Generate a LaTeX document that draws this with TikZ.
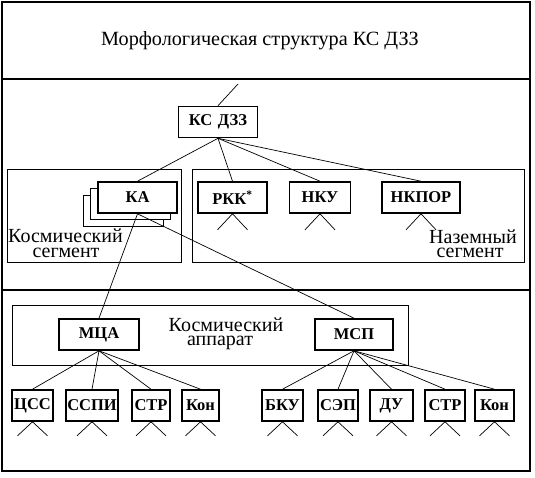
\documentclass[tikz,border=0pt]{standalone}
\usepackage{fontspec}
\setmainfont{Liberation Serif}
\newfontfamily\tms{Liberation Serif}
\begin{document}
\begin{tikzpicture}[x=1pt,y=-1pt,
  frame/.style={line width=1.6pt},
  thin/.style={line width=0.8pt},
  box/.style={draw,line width=1.6pt,fill=white,font=\tms\fontsize{16.5}{16.5}\selectfont\bfseries,inner sep=0pt,minimum height=31pt},
  blank/.style={draw,line width=0.8pt,fill=white,inner sep=0pt,minimum height=31pt,minimum width=80pt},
  seglabel/.style={anchor=base,font=\tms\fontsize{20}{20}\selectfont,inner sep=0pt},
  conn/.style={line width=0.7pt}]
\useasboundingbox (0,0) rectangle (535,477);
% outer frame and separators
\draw[frame] (2,2) rectangle (530,471);
\draw[frame] (2,79) -- (530,79);
\draw[frame] (2,290) -- (530,290);
\node[anchor=base,inner sep=0pt,font=\tms\fontsize{20.2}{20.2}\selectfont] (title) at (260,45) {Морфологическая структура КС ДЗЗ};
% segment boxes
\draw[thin] (7,169) rectangle (181,262);
\draw[thin] (192,169) rectangle (524,262);
\draw[thin] (12,305) rectangle (408,365);
\node[seglabel] (kseg1) at (65.5,242) {Космический};
\node[seglabel] (kseg2) at (66,257) {сегмент};
\node[seglabel] (nseg1) at (473,243) {Наземный};
\node[seglabel] (nseg2) at (470,257) {сегмент};
\node[seglabel] (kapp1) at (226,331) {Космический};
\node[seglabel] (kapp2) at (220,345.5) {аппарат};
% KA stack
\node[blank] (ka3) at (123,211) {};
\node[blank] (ka2) at (130,204) {};
\node[box,minimum width=79pt] (ka) at (137.5,197.5) {КА};
% nodes
\node[box,minimum width=79pt] (ksdzz) at (218,122) {КС\,\,ДЗЗ};
\node[box,minimum width=69pt] (rkk) at (232.5,197.5) {РКК\textsuperscript{*}};
\node[box,minimum width=61pt] (nku) at (320,197.5) {НКУ};
\node[box,minimum width=78pt] (nkpor) at (421,197.5) {НКПОР};
\node[box,minimum width=80pt] (mca) at (99,334.5) {МЦА};
\node[box,minimum width=78pt] (msp) at (354,334.5) {МСП};
\node[box,minimum width=41pt] (css) at (32.5,405.5) {ЦСС};
\node[box,minimum width=52pt] (sspi) at (92,405.5) {ССПИ};
\node[box,minimum width=38pt] (str1) at (151,405.5) {СТР};
\node[box,minimum width=37pt] (kon1) at (200.5,405.5) {Кон};
\node[box,minimum width=41pt] (bku) at (282.5,405.5) {БКУ};
\node[box,minimum width=40pt] (sep) at (338,405.5) {СЭП};
\node[box,minimum width=43pt] (du) at (391.5,405.5) {ДУ};
\node[box,minimum width=40pt] (str2) at (445,405.5) {СТР};
\node[box,minimum width=39pt] (kon2) at (494.5,405.5) {Кон};
% connectors
\coordinate (up) at (238,84);
\draw[conn] (ksdzz.north) -- (up);
\foreach \t in {ka,rkk,nku,nkpor} \draw[conn] (ksdzz.south) -- (\t.north);
\draw[conn] (ka.south) -- (mca.north);
\draw[conn] (ka.south) -- (msp.north);
\foreach \t in {css,sspi,str1,kon1} \draw[conn] (mca.south) -- (\t.north);
\foreach \t in {bku,sep,du,str2,kon2} \draw[conn] (msp.south) -- (\t.north);
% small branch marks
\foreach \n in {rkk,nku,nkpor}
  \draw[conn] ([xshift=-15pt,yshift=-16pt]\n.south) -- (\n.south) -- ([xshift=15pt,yshift=-16pt]\n.south);
\foreach \n in {css,sspi,str1,kon1,bku,sep,du,str2,kon2}
  \draw[conn] ([xshift=-15pt,yshift=-14pt]\n.south) -- (\n.south) -- ([xshift=15pt,yshift=-14pt]\n.south);
\end{tikzpicture}
\end{document}
